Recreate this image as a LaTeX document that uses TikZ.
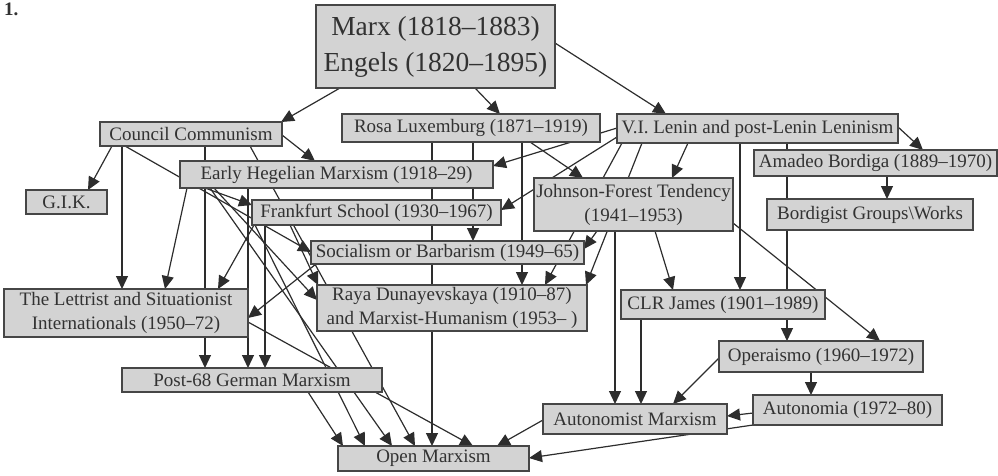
\documentclass[tikz,border=0pt]{standalone}
\usepackage{fontspec}
\setmainfont{Liberation Serif}
\usetikzlibrary{arrows.meta}
\definecolor{boxfill}{RGB}{211,211,211}
\definecolor{boxline}{RGB}{70,70,70}
\definecolor{txt}{RGB}{50,50,50}
\definecolor{arrc}{RGB}{45,45,45}
\pgfdeclarelayer{bg}
\pgfsetlayers{bg,main}
\tikzset{
  box/.style={draw=boxline, fill=boxfill, line width=1.3pt, inner sep=0pt, outer sep=0pt,
    text=txt, font=\fontsize{19}{24}\selectfont, align=center, anchor=north west},
  arr/.style={draw=arrc, line width=1.2pt, -{Triangle[length=13pt,width=12pt]}},
}
\newcommand{\bx}[6]{\node[box, minimum width=#4pt, minimum height=#5pt] (#1) at (#2,#3) {#6};}
\begin{document}
\begin{tikzpicture}[x=1pt,y=-1pt]
\useasboundingbox (0,0) rectangle (998,475);
\node[anchor=north west, inner sep=0pt, text=txt, font=\fontsize{19}{19}\selectfont\bfseries] (num) at (4,3) {1.};
\node[box, minimum width=239pt, minimum height=83pt, font=\fontsize{27.5}{36}\selectfont] (marx) at (316,5) {Marx (1818–1883)\\Engels (1820–1895)};
\bx{cc}{100}{122}{182}{24}{Council Communism}
\bx{rosa}{342}{114}{258}{28}{Rosa Luxemburg (1871–1919)}
\bx{lenin}{617}{114}{281}{29}{V.I. Lenin and post-Lenin Leninism}
\bx{bord}{754}{150}{243}{26}{Amadeo Bordiga (1889–1970)}
\bx{bgw}{767}{199}{206}{31}{Bordigist Groups\textbackslash Works}
\bx{eh}{180}{161}{313}{27}{Early Hegelian Marxism (1918–29)}
\bx{gik}{26}{190}{81}{24}{G.I.K.}
\bx{jft}{534}{178}{199}{53}{Johnson-Forest Tendency\\(1941–1953)}
\bx{ff}{252}{200}{249}{25}{Frankfurt School (1930–1967)}
\bx{sob}{311}{241}{273}{23}{Socialism or Barbarism (1949–65)}
\bx{raya}{317}{285}{270}{46}{Raya Dunayevskaya (1910–87)\\and Marxist-Humanism (1953– )}
\bx{lett}{4}{289}{244}{48}{The Lettrist and Situationist\\Internationals (1950–72)}
\bx{clr}{621}{290}{204}{29}{CLR James (1901–1989)}
\bx{oper}{719}{341}{204}{31}{Operaismo (1960–1972)}
\bx{p68}{122}{368}{260}{24}{Post-68 German Marxism}
\bx{aut}{753}{395}{189}{30}{Autonomia (1972–80)}
\bx{am}{543}{404}{184}{30}{Autonomist Marxism}
\bx{om}{338}{446}{191}{25}{Open Marxism}
\begin{pgfonlayer}{bg}
\newcommand{\ed}[4]{\draw[arr] ([shift={(#2)}]#1.north west) -- ([shift={(#4)}]#3.north west);}
\ed{marx}{24,83}{cc}{181,0}
\ed{marx}{159,83}{rosa}{158,0}
\ed{marx}{239,38}{lenin}{49,0}
\ed{cc}{12,24}{gik}{62,0}
\ed{cc}{22,24}{lett}{118,0}
\ed{cc}{182,13}{eh}{135,0}
\ed{cc}{25,24}{sob}{0,11}
\ed{cc}{105,24}{p68}{83,0}
\ed{cc}{150,24}{om}{77,0}
\ed{rosa}{90,28}{om}{94,0}
\ed{rosa}{131,28}{sob}{162,0}
\ed{rosa}{180,28}{raya}{205,0}
\ed{rosa}{188,28}{jft}{49,0}
\ed{lenin}{0,14}{eh}{313,5}
\ed{lenin}{0,23}{ff}{249,10}
\ed{lenin}{71,29}{jft}{138,0}
\ed{lenin}{5,29}{raya}{228,0}
\ed{lenin}{25,29}{raya}{269,0}
\ed{jft}{63,53}{sob}{273,8}
\ed{lenin}{123,29}{clr}{119,0}
\ed{lenin}{170,29}{oper}{68,0}
\ed{lenin}{281,13}{bord}{169,0}
\ed{bord}{133,26}{bgw}{120,0}
\ed{jft}{121,53}{clr}{52,0}
\ed{jft}{199,45}{oper}{161,0}
\ed{jft}{81,53}{am}{72,0}
\ed{clr}{20,29}{am}{98,0}
\ed{oper}{0,17}{am}{130,0}
\ed{oper}{92,31}{aut}{58,0}
\ed{aut}{0,18}{am}{184,12}
\ed{aut}{0,30}{om}{191,12}
\ed{am}{0,16}{om}{159,0}
\ed{eh}{7,27}{lett}{161,0}
\ed{eh}{25,27}{ff}{0,5}
\ed{eh}{68,27}{p68}{126,0}
\ed{eh}{30,27}{om}{54,0}
\ed{eh}{34,27}{raya}{0,15}
\ed{ff}{3,25}{om}{27,0}
\ed{ff}{38,25}{raya}{1,0}
\ed{ff}{13,25}{p68}{143,0}
\ed{ff}{2,25}{lett}{214,0}
\ed{sob}{5,23}{lett}{244,29}
\ed{lett}{244,33}{om}{135,0}
\ed{p68}{186,24}{om}{5,0}
\end{pgfonlayer}
\end{tikzpicture}
\end{document}
